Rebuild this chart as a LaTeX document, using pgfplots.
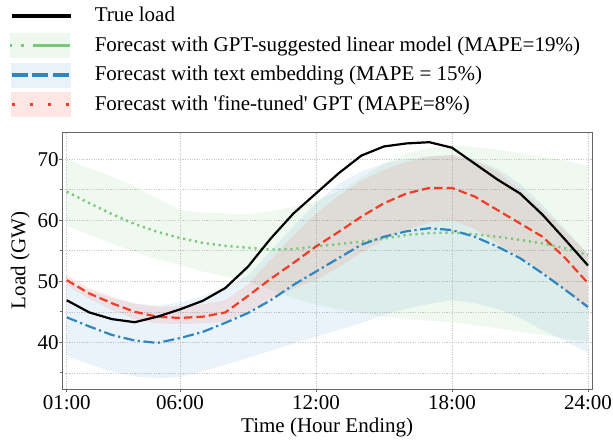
\documentclass[border=0pt]{standalone}
\usepackage{fontspec}
\setmainfont{Liberation Serif}
\usepackage{pgfplots}
\pgfplotsset{compat=1.18}
\usepackage{pgfplotstable}
\usepgfplotslibrary{fillbetween}

\definecolor{cgreen}{HTML}{7AC97A}
\definecolor{cblue}{HTML}{2E86C1}
\definecolor{cred}{HTML}{F23C26}

\pgfplotstableread{
h  true lin  linlo linhi emb  emblo embhi ft   ftlo ftlhi
1  46.9 64.7 59.1  70.0  44.1 37.8  49.9  50.2 49.4 51.0
2  44.9 62.8 57.6  68.5  42.6 36.4  48.5  48.0 47.1 48.9
3  43.8 61.0 56.2  67.2  41.2 35.2  47.2  46.4 45.3 47.5
4  43.3 59.4 54.8  65.5  40.3 34.4  46.4  45.0 43.8 46.3
5  44.2 58.1 53.6  63.6  39.9 34.1  46.0  44.2 43.1 45.8
6  45.4 57.1 52.7  61.7  40.7 34.3  46.5  44.0 43.0 45.9
7  46.8 56.3 51.6  61.3  41.7 35.3  47.6  44.2 43.1 46.2
8  48.9 55.8 50.8  61.1  43.2 36.3  48.9  44.9 43.4 46.9
9  52.4 55.5 49.9  61.0  44.8 37.5  51.0  47.6 45.0 49.5
10 57.0 55.2 48.6  61.5  46.9 38.6  55.0  50.4 47.2 53.5
11 61.1 55.3 47.2  62.2  49.4 39.8  59.0  53.0 48.8 57.5
12 64.4 55.7 46.2  63.1  51.6 40.9  62.8  55.7 50.2 61.1
13 67.7 56.1 45.4  64.8  53.8 42.0  66.0  58.1 52.3 64.0
14 70.6 56.5 44.8  67.0  56.0 43.2  68.0  60.6 54.7 66.5
15 72.1 57.0 44.2  69.3  57.3 44.5  69.3  62.8 56.8 68.3
16 72.6 57.6 43.9  71.0  58.2 45.5  70.0  64.4 58.5 69.6
17 72.8 57.9 43.5  71.8  58.7 46.3  70.5  65.3 59.6 70.4
18 71.9 58.0 43.3  72.3  58.4 46.9  70.7  65.3 60.0 70.7
19 69.3 57.7 42.8  72.0  57.3 46.4  70.0  63.9 58.6 69.8
20 66.7 57.3 42.3  71.6  55.7 45.5  68.5  61.7 56.2 68.0
21 64.4 56.8 41.7  71.0  53.8 44.0  66.0  59.5 54.0 65.0
22 60.9 56.2 41.2  70.4  51.3 42.0  62.5  57.3 51.5 61.8
23 56.8 55.4 40.6  69.8  48.6 40.2  58.5  53.8 48.5 58.2
24 52.6 54.3 40.1  69.0  45.8 38.3  54.5  49.7 45.3 54.6
}\data

\begin{document}
\fontsize{21}{25}\selectfont
\begin{tikzpicture}
\begin{axis}[
  at={(0pt,0pt)}, anchor=south west,
  scale only axis, width=529.7pt, height=257pt,
  xmin=0.806, xmax=24.18, ymin=32.35, ymax=74.47,
  xtick={1,6,12,18,24},
  xticklabels={01:00,06:00,12:00,18:00,24:00},
  ytick={40,50,60,70},
  minor ytick={35,45,55,65},
  /pgf/number format/assume math mode=true,
  xmajorgrids, ymajorgrids, yminorgrids,
  grid style={black!20, dash pattern=on 1.2pt off 1.2pt, line width=0.6pt},
  minor grid style={black!20, dash pattern=on 1.2pt off 1.2pt, line width=0.6pt},
  axis line style={black!60, line width=0.9pt},
  tick style={black!60, line width=0.8pt},
  tick align=outside, tick pos=left,
  major tick length=3pt, minor tick length=2.5pt,
  yticklabel style={inner sep=0pt, xshift=-0.5pt},
  xticklabel style={inner sep=0pt, yshift=-3pt},
  xlabel={Time (Hour Ending)},
  ylabel={Load (GW)},
  xlabel style={at={(axis description cs:0.5,0)}, anchor=north, inner sep=0pt, yshift=-29pt},
  ylabel style={at={(axis description cs:-0.0793,0.5)}, anchor=center, inner sep=0pt},
  legend style={at={(axis description cs:-0.1025,1.5097)}, anchor=north west,
    draw=none, fill=none, inner sep=0pt, outer sep=0pt, row sep=0pt, column sep=0pt,
    nodes={draw=none, fill=none, inner sep=0pt, outer sep=0pt}},
  legend cell align=left,
]
% bands
\addplot[name path=glo, draw=none, forget plot] table[x=h,y=linlo]{\data};
\addplot[name path=ghi, draw=none, forget plot] table[x=h,y=linhi]{\data};
\addplot[fill=cgreen, fill opacity=0.11, draw=none, forget plot] fill between[of=ghi and glo];
\addplot[name path=blo, draw=none, forget plot] table[x=h,y=emblo]{\data};
\addplot[name path=bhi, draw=none, forget plot] table[x=h,y=embhi]{\data};
\addplot[fill=cblue, fill opacity=0.10, draw=none, forget plot] fill between[of=bhi and blo];
\addplot[name path=rlo, draw=none, forget plot] table[x=h,y=ftlo]{\data};
\addplot[name path=rhi, draw=none, forget plot] table[x=h,y=ftlhi]{\data};
\addplot[fill=cred, fill opacity=0.10, draw=none, forget plot] fill between[of=rhi and rlo];
% lines
\addplot[cgreen, line width=2.4pt, line cap=butt, dash pattern=on 2.2pt off 3.8pt, forget plot] table[x=h,y=lin]{\data};
\addplot[cblue, line width=2.2pt, line cap=butt, dash pattern=on 11pt off 3.5pt on 2.2pt off 3.5pt, forget plot] table[x=h,y=emb]{\data};
\addplot[cred, line width=2.2pt, line cap=butt, dash pattern=on 8.5pt off 4pt, forget plot] table[x=h,y=ft]{\data};
\addplot[black, line width=2.2pt, forget plot] table[x=h,y=true]{\data};
% legend
\addlegendimage{legend image code/.code={
  \path[draw=none, fill=none] (0pt,-14.8pt) rectangle (85pt,14.8pt);
  \draw[black, line width=4pt] (2pt,0pt) -- (61pt,0pt);}}
\addlegendentry{True load}
\addlegendimage{legend image code/.code={
  \path[draw=none, fill=none] (0pt,-14.8pt) rectangle (85pt,14.8pt);
  \path[draw=none, fill=cgreen, fill opacity=0.12] (0pt,-12.5pt) rectangle (60pt,12.5pt);
  \draw[cgreen, line width=3.5pt, line cap=butt, dash pattern=on 2pt off 9pt on 3pt off 9pt on 40pt off 0pt] (0pt,0pt) -- (60pt,0pt);}}
\addlegendentry{Forecast with GPT-suggested linear model (MAPE=19\%)}
\addlegendimage{legend image code/.code={
  \path[draw=none, fill=none] (0pt,-14.8pt) rectangle (85pt,14.8pt);
  \path[draw=none, fill=cblue, fill opacity=0.11] (1pt,-12.5pt) rectangle (61pt,12.5pt);
  \draw[cblue, line width=3.5pt, line cap=butt, dash pattern=on 16pt off 4.5pt] (2pt,0pt) -- (60pt,0pt);}}
\addlegendentry{Forecast with text embedding (MAPE = 15\%)}
\addlegendimage{legend image code/.code={
  \path[draw=none, fill=none] (0pt,-14.8pt) rectangle (85pt,14.8pt);
  \path[draw=none, fill=cred, fill opacity=0.13] (1pt,-12.5pt) rectangle (61pt,12.5pt);
  \draw[cred, line width=3.3pt, line cap=butt, dash pattern=on 3pt off 15pt] (2pt,0pt) -- (60pt,0pt);}}
\addlegendentry{Forecast with \textquotesingle fine-tuned\textquotesingle{} GPT (MAPE=8\%)}
\end{axis}
\pgfresetboundingbox
\useasboundingbox (-62.3pt,-53pt) rectangle (550.7pt,389pt);
\end{tikzpicture}
\end{document}
